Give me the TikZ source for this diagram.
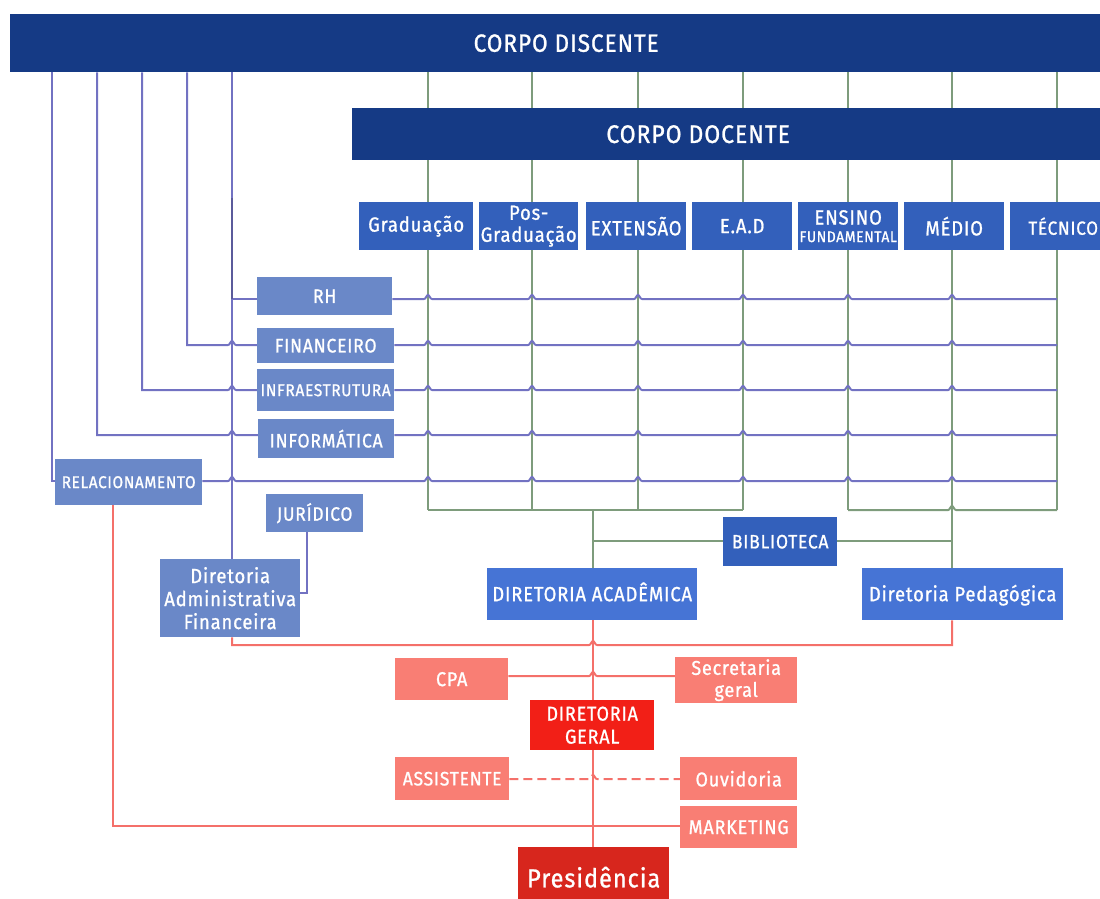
\documentclass[tikz,border=0pt]{standalone}
\usepackage{fontspec}
\setmainfont{Fira Sans}[FakeStretch=0.9, LetterSpace=4, FakeBold=1]
\pgfdeclarelayer{bg}
\pgfsetlayers{bg,main}
\definecolor{navy}{HTML}{153A85}
\definecolor{rowblue}{HTML}{3360BB}
\definecolor{lightblue}{HTML}{6A88C8}
\definecolor{dirblue}{HTML}{4674D5}
\definecolor{purp}{HTML}{7272C2}
\definecolor{grn}{HTML}{7E9C7C}
\definecolor{redln}{HTML}{F4706A}
\definecolor{salmon}{HTML}{F97E74}
\definecolor{dgred}{HTML}{F21F17}
\definecolor{presred}{HTML}{D7261D}
\newcommand\fsz[1]{\fontsize{#1}{#1}\selectfont}
\newcommand\hop[2]{-- ({#1-4},#2) .. controls ({#1-2},#2) and ({#1-1.5},{#2-4}) .. (#1,{#2-4}) .. controls ({#1+1.5},{#2-4}) and ({#1+2},#2) .. ({#1+4},#2)}
\tikzset{
  box/.style={rectangle, inner sep=0pt, anchor=north west, text=white, align=center},
  bignavy/.style={box, fill=navy, font=\fsz{25}},
  rowbox/.style={box, fill=rowblue, font=\fsz{20.5}, minimum height=48pt},
  lbox/.style={box, fill=lightblue, font=\fsz{19.5}},
  dbox/.style={box, fill=dirblue, font=\fsz{20.5}, text height=15pt, text depth=1pt},
  rbox/.style={box, fill=salmon, font=\fsz{20}},
  gline/.style={draw=grn, line width=2pt},
  pline/.style={draw=purp, line width=2pt},
  rline/.style={draw=redln, line width=2pt},
}
\begin{document}
\begin{tikzpicture}[x=1pt,y=-1pt]
\useasboundingbox (0,0) rectangle (1100,899);
% top bars
\node[bignavy, minimum width=1112pt, minimum height=58pt] (cd) at (10,14) {CORPO DISCENTE};
\node[bignavy, minimum width=760pt, minimum height=52pt, font=\fsz{25.4}] (doc) at (352,108) {\hspace*{-68pt}CORPO DOCENTE};
% row
\node[rowbox, minimum width=114pt] (grad) at (359,202) {Graduação};
\node[rowbox, minimum width=99pt, font=\fontsize{20.5}{22}\selectfont] (pos) at (479,202) {Pos-\\Graduação};
\node[rowbox, minimum width=100pt] (ext) at (586,202) {EXTENSÃO};
\node[rowbox, minimum width=100pt] (ead) at (692,202) {E.A.D};
\node[rowbox, minimum width=100pt] (ens) at (798,202) {ENSINO\\[-3pt]{\fsz{15.4}FUNDAMENTAL}};
\node[rowbox, minimum width=100pt] (med) at (904,202) {MÉDIO};
\node[rowbox, minimum width=106pt, font=\fsz{19}] (tec) at (1010,202) {TÉCNICO};
% left boxes
\node[lbox, minimum width=135pt, minimum height=38pt] (rh) at (257,277) {RH};
\node[lbox, minimum width=137pt, minimum height=35pt] (fin) at (257,328) {FINANCEIRO};
\node[lbox, minimum width=137pt, minimum height=42pt, font=\fsz{17.2}] (infra) at (257,369) {INFRAESTRUTURA};
\node[lbox, minimum width=136pt, minimum height=39pt] (info) at (258,419) {INFORMÁTICA};
\node[lbox, minimum width=147pt, minimum height=46pt, font=\fsz{17}] (rel) at (55,459) {RELACIONAMENTO};
\node[lbox, minimum width=97pt, minimum height=38pt, font=\fsz{19.3}] (jur) at (266,494) {JURÍDICO};
\node[lbox, minimum width=140pt, minimum height=78pt, font=\fontsize{20.5}{23}\selectfont] (daf) at (160,559) {Diretoria\\Administrativa\\Financeira};
\node[box, fill=rowblue, font=\fsz{19.4}, minimum width=114pt, minimum height=49pt] (bib) at (723,517) {BIBLIOTECA};
\node[dbox, minimum width=210pt, minimum height=52pt] (da) at (487,568) {DIRETORIA ACADÊMICA};
\node[dbox, minimum width=201pt, minimum height=52pt] (dp) at (862,568) {Diretoria Pedagógica};
% red boxes
\node[rbox, minimum width=113pt, minimum height=42pt] (cpa) at (395,658) {CPA};
\node[rbox, minimum width=122pt, minimum height=46pt, font=\fontsize{20}{22}\selectfont] (sec) at (675,657) {Secretaria\\geral};
\node[box, fill=dgred, font=\fontsize{20}{23}\selectfont, minimum width=124pt, minimum height=50pt] (dg) at (530,700) {DIRETORIA\\GERAL};
\node[rbox, minimum width=114pt, minimum height=43pt, font=\fsz{19.4}] (ass) at (395,757) {ASSISTENTE};
\node[rbox, minimum width=117pt, minimum height=43pt] (ouv) at (680,757) {Ouvidoria};
\node[rbox, minimum width=117pt, minimum height=42pt] (mkt) at (680,806) {MARKETING};
\node[box, fill=presred, font=\fsz{26}, minimum width=151pt, minimum height=60pt] (pres) at (518,847) {Presidência};
\begin{pgfonlayer}{bg}
% green grid
\foreach \x in {428,532,638,743,848,952,1057}
  \draw[gline] (cd.south -| \x,0) -- (\x,510);
\draw[gline] (428,510) -- (743,510);
\draw[gline] (848,510) \hop{952}{510} -- (1057,510);
\draw[gline] (593,510) -- (da.north -| 593,0);
\draw[gline] (952,510) -- (dp.north -| 952,0);
\draw[gline] (593,541) -- (bib.west |- 0,541);
\draw[gline] (bib.east |- 0,541) -- (952,541);
% purple
\draw[pline] (cd.south -| 232,0) -- (232,299) -- (rh.west |- 0,299);
\draw[pline, draw=purp!80!black] (232,198) -- (232,299);
\draw[pline] (rh.east |- 0,299) \foreach \x in {428,532,638,743,848,952}{\hop{\x}{299}} -- (1057,299);
\draw[pline] (cd.south -| 187,0) -- (187,345) \hop{232}{345} -- (fin.west |- 0,345);
\draw[pline] (fin.east |- 0,345) \foreach \x in {428,532,638,743,848,952}{\hop{\x}{345}} -- (1057,345);
\draw[pline] (cd.south -| 142,0) -- (142,390) \hop{232}{390} -- (infra.west |- 0,390);
\draw[pline] (infra.east |- 0,390) \foreach \x in {428,532,638,743,848,952}{\hop{\x}{390}} -- (1057,390);
\draw[pline] (cd.south -| 97,0) -- (97,435) \hop{232}{435} -- (info.west |- 0,435);
\draw[pline] (info.east |- 0,435) \foreach \x in {428,532,638,743,848,952}{\hop{\x}{435}} -- (1057,435);
\draw[pline] (cd.south -| 52,0) -- (52,481) -- (rel.west |- 0,481);
\draw[pline] (rel.east |- 0,481) \hop{232}{481} \foreach \x in {428,532,638,743,848,952}{\hop{\x}{481}} -- (1057,481);
\draw[pline] (daf.north -| 232,0) -- (232,299);
\draw[pline] (jur.south -| 307,0) -- (307,593) -- (daf.east |- 0,593);
% red
\draw[rline] (daf.south -| 232,0) -- (232,645) \hop{593}{645} -- (952,645) -- (dp.south -| 952,0);
\draw[rline] (da.south -| 593,0) -- (dg.north -| 593,0);
\draw[rline] (cpa.east |- 0,676) \hop{593}{676} -- (sec.west |- 0,676);
\draw[rline] (dg.south -| 593,0) -- (pres.north -| 593,0);
\draw[rline, dash pattern=on 9pt off 5pt] (ass.east |- 0,779) \hop{593}{779} -- (ouv.west |- 0,779);
\draw[rline] (rel.south -| 113,0) -- (113,826) -- (mkt.west |- 0,826);
\end{pgfonlayer}
\end{tikzpicture}
\end{document}
